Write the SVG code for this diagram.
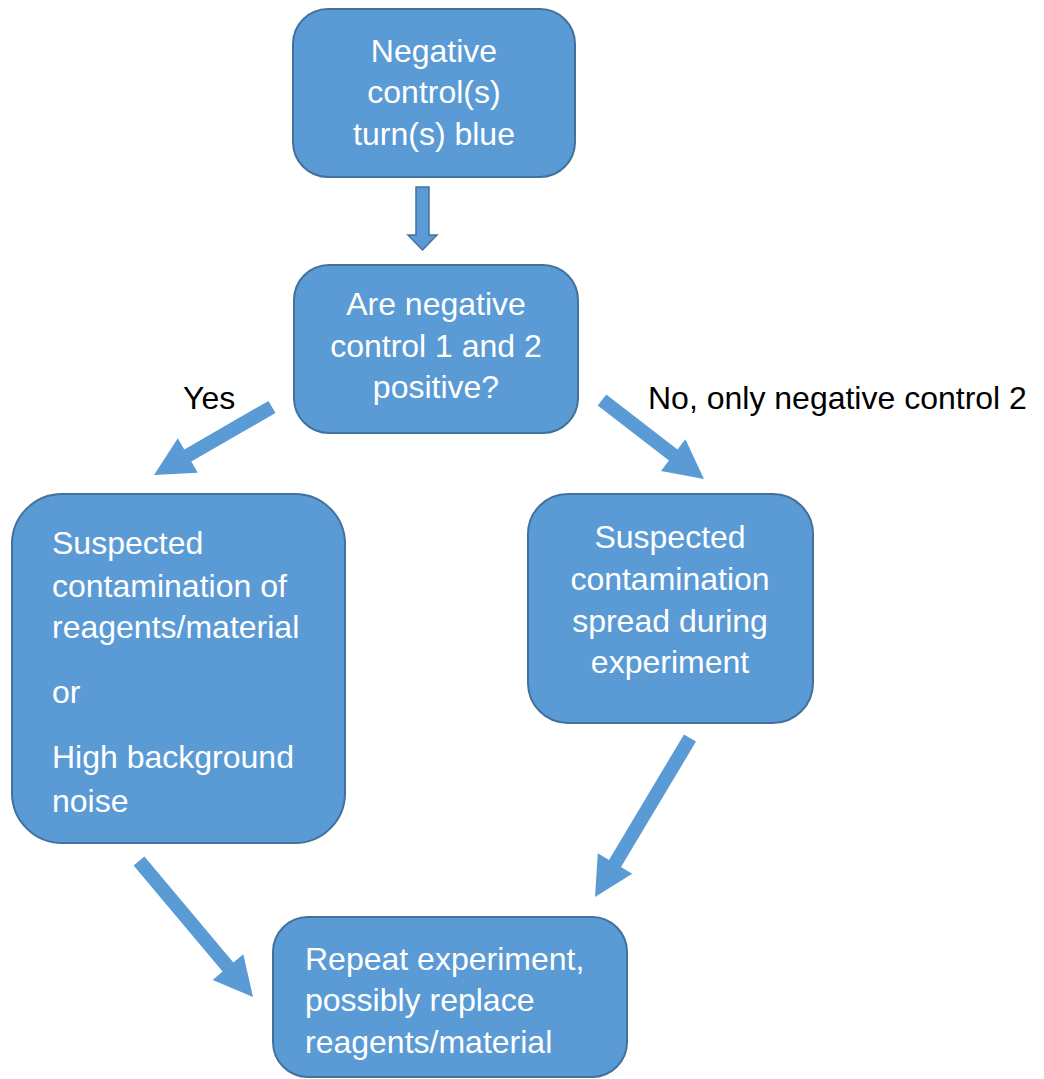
<svg xmlns="http://www.w3.org/2000/svg" width="1044" height="1079" viewBox="0 0 1044 1079">
  <style>
    .box { fill: #5B9BD5; stroke: #41719C; stroke-width: 2; }
    .t { font-family: "Liberation Sans", Arial, sans-serif; font-size: 32px; fill: #FFFFFF; }
    .c { text-anchor: middle; }
    .lbl { font-family: "Liberation Sans", Arial, sans-serif; font-size: 32px; fill: #000000; }
    .arr { fill: #5B9BD5; }
    .arrO { fill: #5B9BD5; stroke: #41719C; stroke-width: 1.5; }
  </style>
  <rect width="1044" height="1079" fill="#FFFFFF"/>

  <g id="connectors">
    <polygon class="arrO" points="416,187 429,187 429,235 437,235 422.5,250 408,235 416,235"/>
    <polygon class="arr" points="275.5,413.1 268.5,400.9 184.3,449.4 177.8,438.2 154,475 197.8,472.8 191.3,461.6"/>
    <polygon class="arr" points="597.7,405.5 606.3,394.5 677.5,449.6 685.4,439.3 704,479 661,470.9 668.9,460.6"/>
    <polygon class="arr" points="133.6,865.5 144.4,856.5 233.4,962.6 243.3,954.3 253,997 212.7,979.9 222.6,971.6"/>
    <polygon class="arr" points="684,734.4 696,741.6 621,867.1 632.2,873.8 595,897 597.8,853.2 609,859.9"/>
    <text class="lbl" x="183" y="409">Yes</text>
    <text class="lbl" x="648" y="409">No, only negative control 2</text>
  </g>

  <g id="node-start">
    <rect class="box" x="293" y="9" width="282" height="168" rx="35" ry="35"/>
    <text class="t c" x="434" y="62">Negative</text>
    <text class="t c" x="434" y="103">control(s)</text>
    <text class="t c" x="434" y="145">turn(s) blue</text>
  </g>

  <g id="node-question">
    <rect class="box" x="294" y="265" width="284" height="168" rx="35" ry="35"/>
    <text class="t c" x="436" y="315">Are negative</text>
    <text class="t c" x="436" y="357">control 1 and 2</text>
    <text class="t c" x="436" y="398">positive?</text>
  </g>

  <g id="node-yes">
    <rect class="box" x="12" y="494" width="333" height="349" rx="50" ry="50"/>
    <text class="t" x="52" y="554">Suspected</text>
    <text class="t" x="52" y="597">contamination of</text>
    <text class="t" x="52" y="638">reagents/material</text>
    <text class="t" x="52" y="703">or</text>
    <text class="t" x="52" y="768">High background</text>
    <text class="t" x="52" y="812">noise</text>
  </g>

  <g id="node-no">
    <rect class="box" x="528" y="494" width="285" height="229" rx="40" ry="40"/>
    <text class="t c" x="670" y="548">Suspected</text>
    <text class="t c" x="670" y="590">contamination</text>
    <text class="t c" x="670" y="632">spread during</text>
    <text class="t c" x="670" y="673">experiment</text>
  </g>

  <g id="node-repeat">
    <rect class="box" x="273" y="917" width="354" height="160" rx="35" ry="35"/>
    <text class="t" x="305" y="970">Repeat experiment,</text>
    <text class="t" x="305" y="1011">possibly replace</text>
    <text class="t" x="305" y="1053">reagents/material</text>
  </g>
</svg>
